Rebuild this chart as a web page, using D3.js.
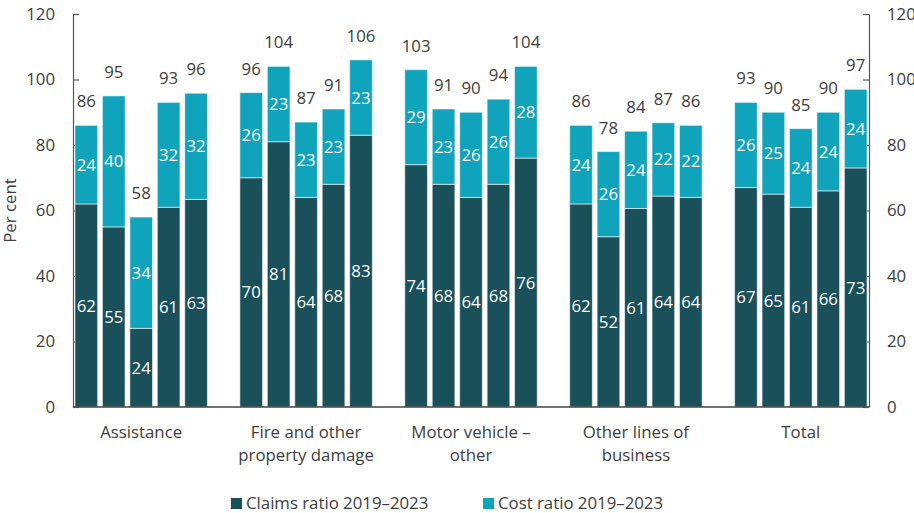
<!DOCTYPE html>
<html>
<head>
<meta charset="utf-8">
<script src="https://cdn.jsdelivr.net/npm/d3@7"></script>
<style>
  html, body { margin: 0; padding: 0; background: #fff; overflow: hidden; }
  svg { display: block; font-family: "Open Sans", sans-serif; }
</style>
</head>
<body>
<svg id="chart" width="914" height="513"></svg>
<script>
// Lines of business and reporting years
const categories = [
  ["Assistance"],
  ["Fire and other", "property damage"],
  ["Motor vehicle \u2013", "other"],
  ["Other lines of", "business"],
  ["Total"]
];
const years = ["2019", "2020", "2021", "2022", "2023"];

// Claims ratio (per cent) by category, 2019–2023
const claimsRatio = [
  [62, 55, 24, 61, 63.4],
  [70, 81, 64, 68, 83],
  [74, 68, 64, 68, 76],
  [62, 52, 60.6, 64.4, 64],
  [67, 65, 61, 66, 73]
];
// Cost ratio (per cent) by category, 2019–2023
const costRatio = [
  [24, 40, 34, 32, 32.4],
  [26, 23, 23, 23, 23],
  [29, 23, 26, 26, 28],
  [24, 26, 23.6, 22.4, 22],
  [26, 25, 24, 24, 24]
];
const yTicks = [0, 20, 40, 60, 80, 100, 120];
const seriesNames = ["Claims ratio 2019\u20132023", "Cost ratio 2019\u20132023"];

const colors = { claims: "#1a505a", cost: "#10a4bc" };
const textColor = "#3d3d3d";
const fontSize = "16.8px";

const svg = d3.select("#chart");
const x0 = 73, x1 = 869, yTop = 14, yBottom = 407;

const groupScale = d3.scaleBand()
  .domain(d3.range(categories.length))
  .range([x0, x1])
  .paddingInner(0.197)
  .paddingOuter(0.012);

const barScale = d3.scaleBand()
  .domain(years)
  .range([0, groupScale.bandwidth()])
  .paddingInner(0.175)
  .paddingOuter(0);

const y = d3.scaleLinear().domain([0, 120]).range([yBottom, yTop]);

// Axes
const axisStyle = g => {
  g.selectAll("path.domain").attr("stroke", "#555").attr("stroke-width", 1.2);
  g.selectAll(".tick line").attr("stroke", "#555").attr("stroke-width", 1.2);
  g.selectAll(".tick text")
    .attr("fill", textColor)
    .style("font-size", fontSize)
    .style("font-family", "'Open Sans', sans-serif");
};

svg.append("g")
  .attr("transform", `translate(${x0},0)`)
  .call(d3.axisLeft(y).tickValues(yTicks).tickSizeInner(-6).tickSizeOuter(0).tickPadding(18))
  .call(axisStyle);

svg.append("g")
  .attr("transform", `translate(${x1},0)`)
  .call(d3.axisRight(y).tickValues(yTicks).tickSizeInner(-6).tickSizeOuter(0).tickPadding(18))
  .call(axisStyle);

// Bars
const groups = svg.append("g").selectAll("g")
  .data(categories.map((c, i) => ({ i, c })))
  .join("g")
  .attr("transform", d => `translate(${groupScale(d.i)},0)`);

groups.each(function (d) {
  const g = d3.select(this);
  years.forEach((yr, j) => {
    const claims = claimsRatio[d.i][j];
    const cost = costRatio[d.i][j];
    const total = claims + cost;
    const bx = barScale(yr);
    const bw = barScale.bandwidth();
    const cx = bx + bw / 2;

    g.append("rect")
      .attr("x", bx).attr("width", bw)
      .attr("y", y(claims)).attr("height", y(0) - y(claims))
      .attr("fill", colors.claims)
      .attr("stroke", "#ffffff").attr("stroke-opacity", 0.55).attr("stroke-width", 1);
    g.append("rect")
      .attr("x", bx).attr("width", bw)
      .attr("y", y(total)).attr("height", y(claims) - y(total))
      .attr("fill", colors.cost)
      .attr("stroke", "#ffffff").attr("stroke-opacity", 0.55).attr("stroke-width", 1);

    g.append("text")
      .attr("x", cx).attr("y", (y(0) + y(claims)) / 2)
      .attr("dy", "0.36em")
      .attr("text-anchor", "middle")
      .attr("fill", "#fff")
      .style("font-size", fontSize)
      .text(Math.round(claims));
    g.append("text")
      .attr("x", cx).attr("y", (y(claims) + y(total)) / 2)
      .attr("dy", "0.36em")
      .attr("text-anchor", "middle")
      .attr("fill", "#fff")
      .style("font-size", fontSize)
      .text(Math.round(cost));
    g.append("text")
      .attr("x", cx).attr("y", y(total) - 18)
      .attr("text-anchor", "middle")
      .attr("fill", textColor)
      .style("font-size", fontSize)
      .text(Math.round(total));
  });
});

// Baseline
svg.append("line")
  .attr("x1", x0).attr("x2", x1)
  .attr("y1", y(0)).attr("y2", y(0))
  .attr("stroke", "#444").attr("stroke-width", 1.5);

// Category labels
groups.append("text")
  .attr("text-anchor", "middle")
  .attr("fill", textColor)
  .style("font-size", fontSize)
  .each(function (d) {
    const t = d3.select(this);
    d.c.forEach((line, k) => {
      t.append("tspan")
        .attr("x", groupScale.bandwidth() / 2)
        .attr("y", 438 + k * 23)
        .text(line);
    });
  });

// Y axis title
svg.append("text")
  .attr("transform", `translate(16,${(yTop + yBottom) / 2}) rotate(-90)`)
  .attr("text-anchor", "middle")
  .attr("fill", textColor)
  .style("font-size", fontSize)
  .text("Per cent");

// Legend
const legendX = [231, 483];
const legendColors = [colors.claims, colors.cost];
const legend = svg.append("g").selectAll("g")
  .data(seriesNames)
  .join("g")
  .attr("transform", (d, i) => `translate(${legendX[i]},498)`);
legend.append("rect")
  .attr("width", 11).attr("height", 11)
  .attr("fill", (d, i) => legendColors[i]);
legend.append("text")
  .attr("x", 15).attr("y", 11)
  .attr("fill", textColor)
  .style("font-size", fontSize)
  .text(d => d);
</script>
</body>
</html>
